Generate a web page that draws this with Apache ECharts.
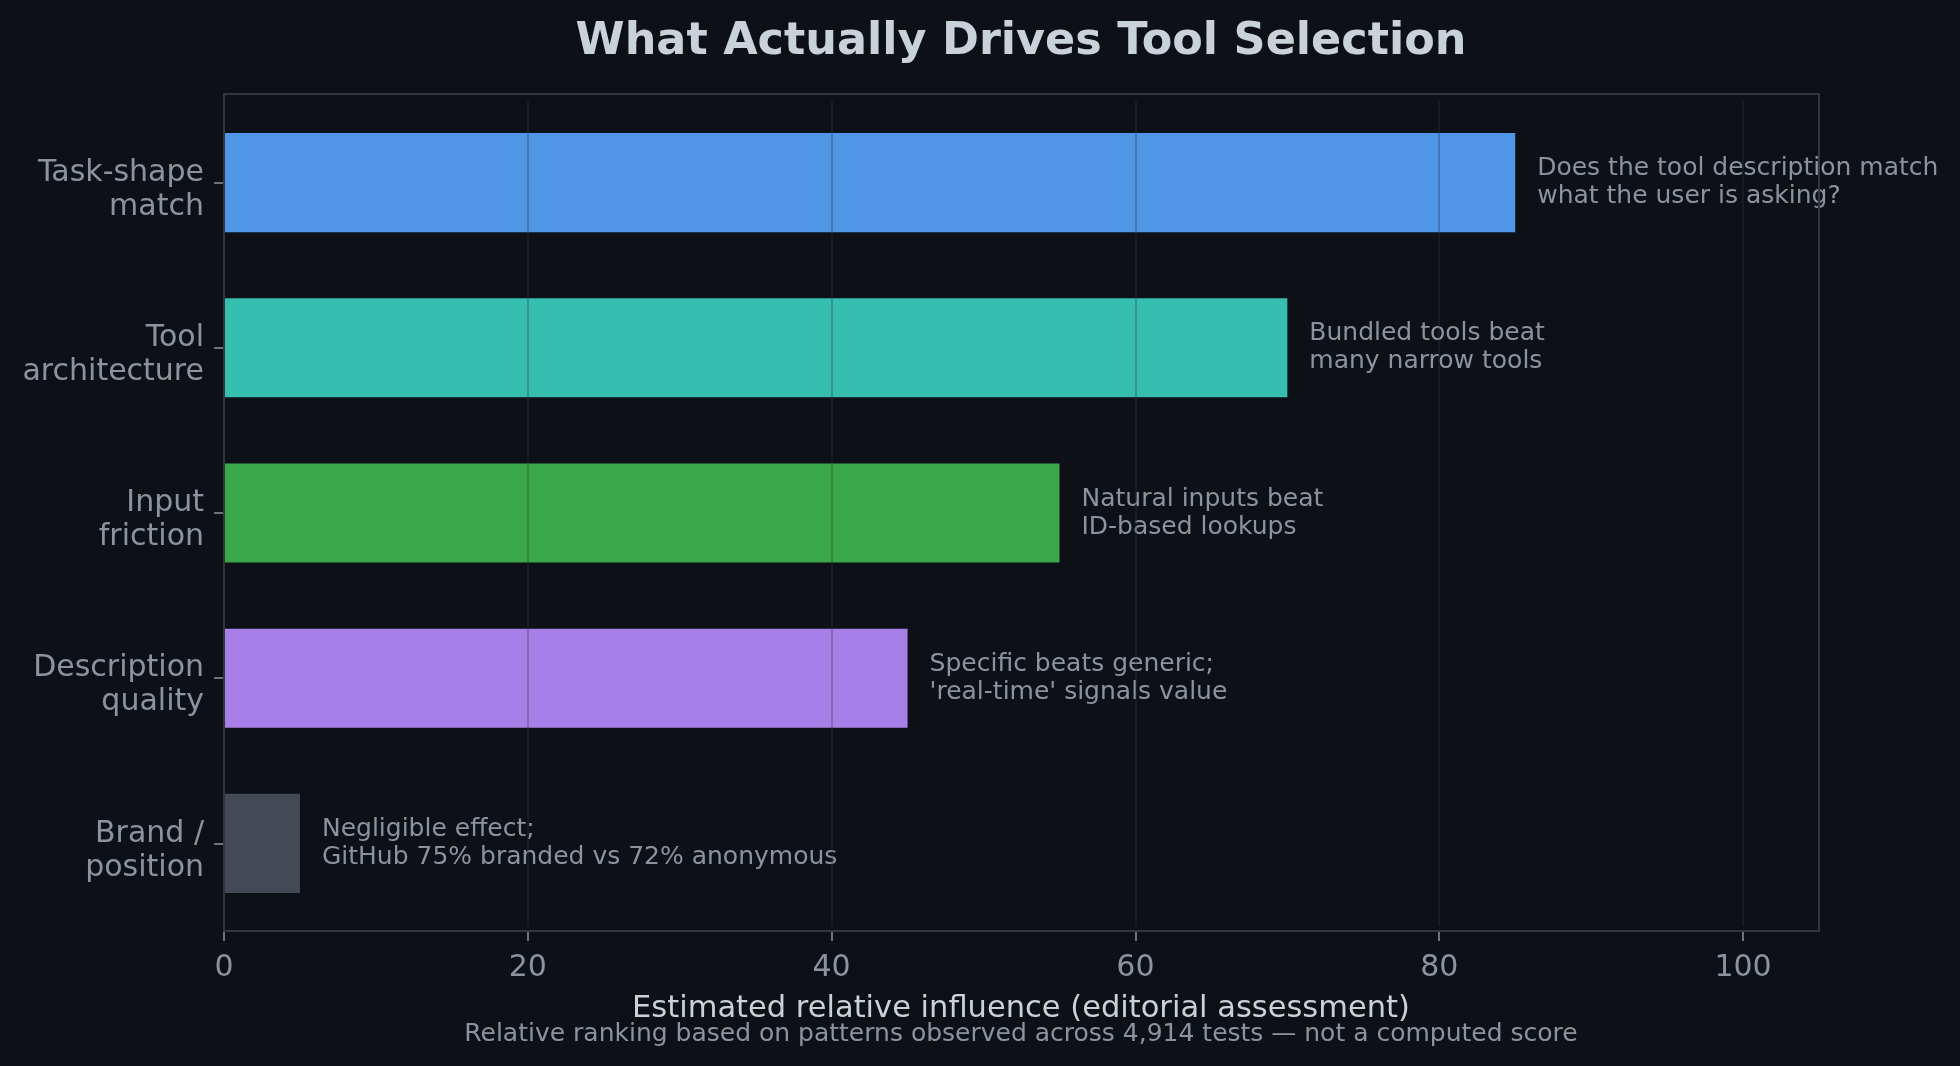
<!DOCTYPE html>
<html>
<head>
<meta charset="utf-8">
<script src="https://cdn.jsdelivr.net/npm/echarts@6/dist/echarts.min.js"></script>
<style>
  html, body { margin: 0; padding: 0; background: #0d1117; }
  #chart { width: 1960px; height: 1066px; }
</style>
</head>
<body>
<div id="chart"></div>
<script>
const categories = [
  "Task-shape\nmatch",
  "Tool\narchitecture",
  "Input\nfriction",
  "Description\nquality",
  "Brand /\nposition",
];
const influence = [85, 70, 55, 45, 5];
const notes = [
  "Does the tool description match\nwhat the user is asking?",
  "Bundled tools beat\nmany narrow tools",
  "Natural inputs beat\nID-based lookups",
  "Specific beats generic;\n'real-time' signals value",
  "Negligible effect;\nGitHub 75% branded vs 72% anonymous",
];
const barColors = ["#4f96e6", "#36bfb0", "#3aa84a", "#a87fe8", "#434a55"];
const xTicks = [0, 20, 40, 60, 80, 100];

const font = "DejaVu Sans";
const chart = echarts.init(document.getElementById("chart"));

const option = {
  backgroundColor: "#0d1117",
  animation: false,
  title: [
    {
      text: "What Actually Drives Tool Selection",
      left: 1021,
      top: 17,
      textAlign: "center",
      padding: 0,
      textStyle: { color: "#c9d1d9", fontSize: 44.5, fontWeight: "bold", fontFamily: font, lineHeight: 50 },
    },
    {
      text: "Estimated relative influence (editorial assessment)",
      left: 1021,
      top: 992,
      textAlign: "center",
      padding: 0,
      textStyle: { color: "#c9d1d9", fontSize: 30.5, fontWeight: "normal", fontFamily: font, lineHeight: 34 },
    },
    {
      text: "Relative ranking based on patterns observed across 4,914 tests \u2014 not a computed score",
      left: 1021,
      top: 1020,
      textAlign: "center",
      padding: 0,
      textStyle: { color: "#8b949e", fontSize: 25, fontWeight: "normal", fontFamily: font, lineHeight: 28 },
    },
  ],
  grid: { left: 224, right: 141, top: 100, bottom: 140, containLabel: false },
  xAxis: {
    type: "value",
    min: 0,
    max: 105,
    interval: 20,
    offset: 5,
    z: 5,
    axisLine: { show: false },
    axisTick: {
      show: true,
      length: 10,
      customValues: xTicks,
      lineStyle: { color: "#8b949e", width: 1.5 },
    },
    axisLabel: {
      customValues: xTicks,
      margin: 22,
      color: "#8b949e",
      fontSize: 30,
      lineHeight: 30,
      fontFamily: font,
    },
    splitLine: {
      show: true,
      lineStyle: { color: "rgba(48,54,61,0.3)", width: 2 },
    },
  },
  yAxis: {
    type: "category",
    inverse: true,
    data: categories,
    axisLine: { show: false },
    axisTick: {
      show: true,
      alignWithLabel: true,
      length: 10,
      lineStyle: { color: "#8b949e", width: 1.5 },
    },
    axisLabel: {
      margin: 20,
      align: "right",
      // small spacer line on top so the two text lines sit a little lower, like the original
      formatter: (v) => "{s| }\n" + v.split("\n").map((s) => "{a|" + s + "}").join("\n"),
      rich: {
        s: { fontSize: 10, lineHeight: 15 },
        a: { color: "#8b949e", fontSize: 30, lineHeight: 34, fontFamily: font, align: "right" },
      },
    },
    splitLine: { show: false },
  },
  series: [
    {
      type: "bar",
      barWidth: "60%",
      z: 2,
      data: influence.map((v, i) => ({ value: v, itemStyle: { color: barColors[i] } })),
      label: {
        show: true,
        position: "right",
        distance: 22,
        formatter: (p) => notes[p.dataIndex],
        color: "#8b949e",
        fontSize: 25,
        lineHeight: 28,
        fontFamily: font,
        align: "left",
      },
    },
  ],
  graphic: [
    {
      type: "rect",
      z: 10,
      silent: true,
      shape: { x: 224, y: 94, width: 1595, height: 837 },
      style: { fill: "none", stroke: "#30363d", lineWidth: 2 },
    },
  ],
};

chart.setOption(option);
</script>
</body>
</html>
